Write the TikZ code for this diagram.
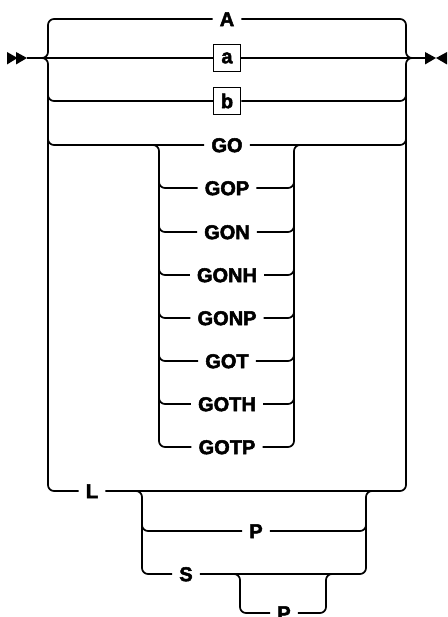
\documentclass[tikz,border=0pt]{standalone}
\usepackage{fontspec}
\newfontfamily\kwfont[FakeBold=2.5]{Liberation Sans}
\begin{document}
\begin{tikzpicture}[x=1pt, y=-1pt,
    rail/.style={line width=1.7pt, rounded corners=6pt},
    kw/.style={font=\kwfont\fontsize{20}{20}\selectfont\bfseries, inner xsep=7pt, inner ysep=0pt,
      text height=14.3pt, text depth=0pt},
    var/.style={kw, draw, line width=1.5pt, minimum size=27pt, inner sep=0pt}]
    \useasboundingbox (0,0) rectangle (447,617);

    % Ein- og utgang
    \coordinate (in) at (27,58);
    \coordinate (out) at (425,58);
    \fill (7,52) -- (17.5,58) -- (7,64.5) -- cycle;
    \fill (16,52) -- (27,58) -- (16,64.5) -- cycle;
    \fill (425,52) -- (436,58) -- (425,64.5) -- cycle;
    \fill (447,52) -- (436,58) -- (447,64.5) -- cycle;

    % Ord
    \node[kw] (A) at (227,19) {A};
    \node[var, text height=10.5pt] (va) at (227,58) {a};
    \node[var] (vb) at (227,101) {b};
    \node[kw] (GO) at (227,145) {GO};
    \node[kw] (GOP) at (227,188) {GOP};
    \node[kw] (GON) at (227,232) {GON};
    \node[kw] (GONH) at (227,275) {GONH};
    \node[kw] (GONP) at (227,318) {GONP};
    \node[kw] (GOT) at (227,361) {GOT};
    \node[kw] (GOTH) at (227,404) {GOTH};
    \node[kw] (GOTP) at (227,447) {GOTP};
    \node[kw] (L) at (92,491) {L};
    \node[kw] (P1) at (256,531) {P};
    \node[kw] (S) at (186,574) {S};
    \node[kw] (P2) at (284,613) {P};

    % Hovedsporet
    \draw[rail] (in) -- (va.west);
    \draw[rail] (va.east) -- (out);
    \draw[rail] (in) -- (48,58) -- (48,19) -- (A.west);
    \draw[rail] (in) -- (48,58) -- (48,491) -- (L.west);
    \draw[rail] (48,80) -- (48,101) -- (vb.west);
    \draw[rail] (48,125) -- (48,145) -- (GO.west);
    \draw[rail] (A.east) -- (406,19) -- (406,58) -- (out);
    \draw[rail] (L.east) -- (406,491) -- (406,58) -- (out);
    \draw[rail] (vb.east) -- (406,101) -- (406,80);
    \draw[rail] (GO.east) -- (406,145) -- (406,125);

    % GO-varianter
    \draw[rail] (140,145) -- (159,145) -- (159,447) -- (GOTP.west);
    \draw[rail] (159,170) -- (159,188) -- (GOP.west);
    \draw[rail] (159,214) -- (159,232) -- (GON.west);
    \draw[rail] (159,257) -- (159,275) -- (GONH.west);
    \draw[rail] (159,300) -- (159,318) -- (GONP.west);
    \draw[rail] (159,343) -- (159,361) -- (GOT.west);
    \draw[rail] (159,386) -- (159,404) -- (GOTH.west);
    \draw[rail] (GOTP.east) -- (294,447) -- (294,145) -- (310,145);
    \draw[rail] (GOP.east) -- (294,188) -- (294,170);
    \draw[rail] (GON.east) -- (294,232) -- (294,214);
    \draw[rail] (GONH.east) -- (294,275) -- (294,257);
    \draw[rail] (GONP.east) -- (294,318) -- (294,300);
    \draw[rail] (GOT.east) -- (294,361) -- (294,343);
    \draw[rail] (GOTH.east) -- (294,404) -- (294,386);

    % L med P og S
    \draw[rail] (120,491) -- (142,491) -- (142,574) -- (S.west);
    \draw[rail] (142,513) -- (142,531) -- (P1.west);
    \draw[rail] (P1.east) -- (366,531) -- (366,513);
    \draw[rail] (S.east) -- (366,574) -- (366,491) -- (385,491);
    \draw[rail] (215,574) -- (240,574) -- (240,613) -- (P2.west);
    \draw[rail] (P2.east) -- (326,613) -- (326,574) -- (345,574);
  \end{tikzpicture}
\end{document}
